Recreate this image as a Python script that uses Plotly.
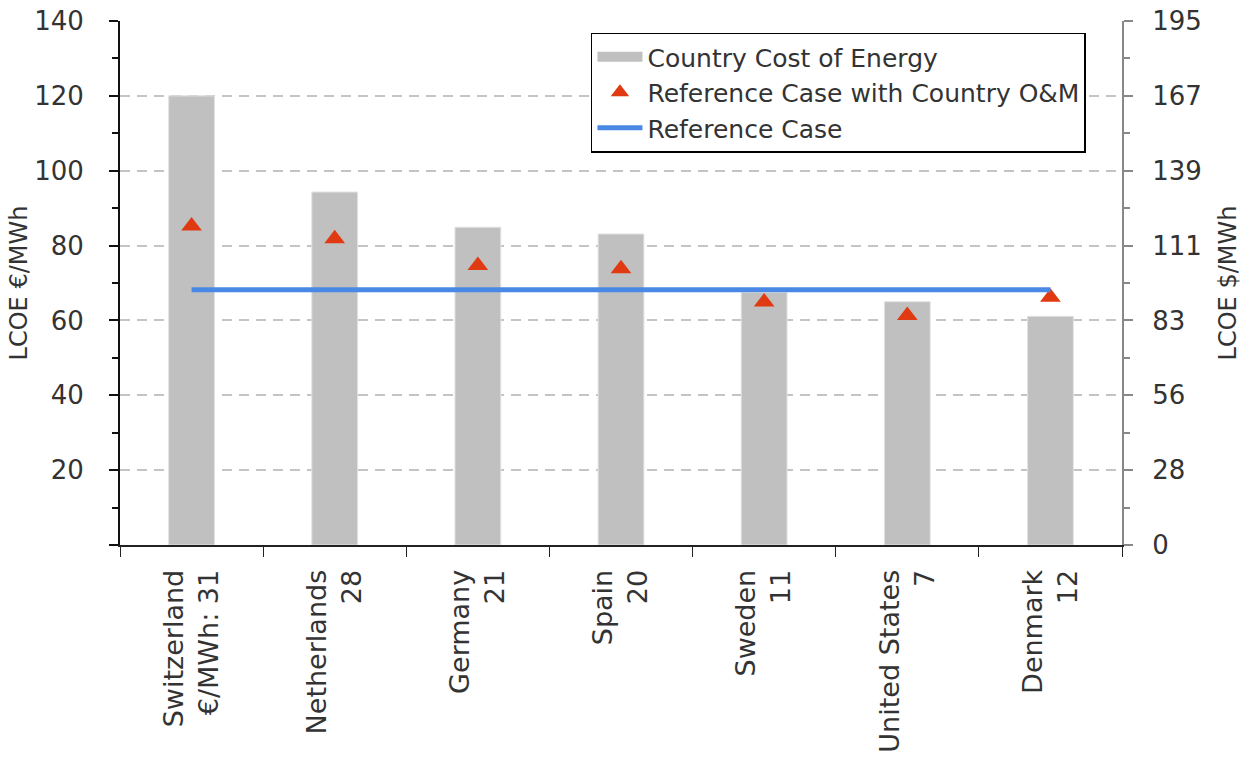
import plotly.graph_objects as go

# Countries with their O&M cost (€/MWh) shown under each name
countries = ["Switzerland<br>€/MWh: 31", "Netherlands<br>28", "Germany<br>21", "Spain<br>20",
             "Sweden<br>11", "United States<br>7", "Denmark<br>12"]

# LCOE in €/MWh
country_cost = [120.0, 94.3, 84.9, 83.1, 67.5, 65.0, 61.1]
ref_with_country_om = [85.2, 81.8, 74.7, 73.8, 64.9, 61.3, 66.2]
reference_case = [68.2, 68.2, 68.2, 68.2, 68.2, 68.2, 68.2]

# Axis ticks: € on the left, $ equivalent on the right
eur_ticks = [0, 20, 40, 60, 80, 100, 120, 140]
eur_minor = [10, 30, 50, 70, 90, 110, 130]
usd_labels = ["0", "28", "56", "83", "111", "139", "167", "195"]
eur_to_usd = 195 / 140

FONT = "DejaVu Sans"
TXT = "#333333"
BAR_GREY = "#c0c0c0"

fig = go.Figure()

fig.add_trace(go.Bar(
    x=countries, y=country_cost, name="Country Cost of Energy", showlegend=False,
    width=0.32, marker=dict(color=BAR_GREY, line=dict(color="#e2e2e2", width=1)),
))
# Wide grey swatch for the bar series in the legend
fig.add_trace(go.Scatter(
    x=[countries[0]], y=[None], name="Country Cost of Energy",
    mode="lines", line=dict(color=BAR_GREY, width=14), hoverinfo="skip",
))
fig.add_trace(go.Scatter(
    x=countries, y=ref_with_country_om, name="Reference Case with Country O&M",
    mode="markers", marker=dict(symbol="triangle-up", size=18, color="#e03a12"),
))
fig.add_trace(go.Scatter(
    x=countries, y=reference_case, name="Reference Case",
    mode="lines", line=dict(color="#4a88e6", width=5),
))
# Carrier trace for the $ axis
fig.add_trace(go.Scatter(
    x=[countries[0]], y=[None], yaxis="y2", showlegend=False, hoverinfo="skip",
))

fig.update_layout(
    width=1252, height=760,
    margin=dict(l=120, r=130, t=21, b=215),
    paper_bgcolor="white", plot_bgcolor="white",
    font=dict(family=FONT, size=24, color=TXT),
    showlegend=True,
    legend=dict(
        x=0.47, y=0.978, xanchor="left", yanchor="top",
        bgcolor="white", bordercolor="black", borderwidth=1.5,
        font=dict(family=FONT, size=25, color=TXT),
        itemwidth=45, tracegroupgap=0,
    ),
    xaxis=dict(
        type="category", showline=True, linecolor="#222222", linewidth=2,
        ticks="outside", tickson="boundaries", ticklen=10, tickcolor="#222222",
        tickangle=-90, tickfont=dict(family=FONT, size=27, color=TXT),
        ticklabelstandoff=12, showgrid=False, automargin=False,
    ),
    yaxis=dict(
        range=[0, 140], tickvals=eur_ticks,
        ticktext=[""] + [str(v) for v in eur_ticks[1:]],
        showline=True, linecolor="#111111", linewidth=2,
        ticks="outside", ticklen=9, tickcolor="#111111", tickwidth=2,
        minor=dict(tickvals=eur_minor, ticks="outside",
                   ticklen=6, tickcolor="#111111", tickwidth=1.5, showgrid=False),
        showgrid=True, gridcolor="#c4c4c4", gridwidth=1.5, griddash="10px,7px",
        zeroline=False, ticklabelstandoff=20, automargin=False,
        title=dict(text="LCOE €/MWh", font=dict(family=FONT, size=24, color=TXT), standoff=0),
        tickfont=dict(family=FONT, size=26, color=TXT),
    ),
    yaxis2=dict(
        overlaying="y", side="right", range=[0, 195],
        tickvals=[v * eur_to_usd for v in eur_ticks], ticktext=usd_labels,
        showline=True, linecolor="#888888", linewidth=2,
        ticks="outside", ticklen=9, tickcolor="#888888", tickwidth=1.5,
        minor=dict(tickvals=[v * eur_to_usd for v in eur_minor],
                   ticks="outside", ticklen=6, tickcolor="#888888", tickwidth=1.5, showgrid=False),
        showgrid=False, zeroline=False, ticklabelstandoff=14, automargin=False,
        title=dict(text="LCOE $/MWh", font=dict(family=FONT, size=24, color=TXT), standoff=18),
        tickfont=dict(family=FONT, size=26, color=TXT),
    ),
)

fig.write_html("out.html")
